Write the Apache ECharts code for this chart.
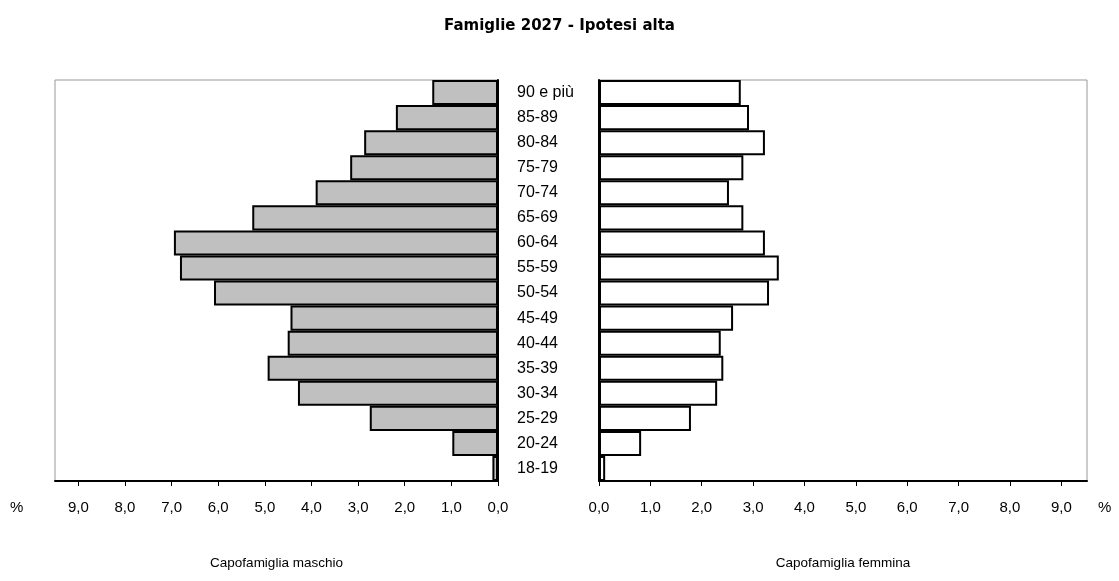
<!DOCTYPE html>
<html>
<head>
<meta charset="utf-8">
<script src="https://cdn.jsdelivr.net/npm/echarts@6/dist/echarts.min.js"></script>
<style>
  html, body { margin: 0; padding: 0; background: #fff; }
  #chart { width: 1119px; height: 581px; }
</style>
</head>
<body>
<div id="chart"></div>
<script>
// Age classes, top to bottom
const ageClasses = [
  "90 e più", "85-89", "80-84", "75-79", "70-74", "65-69", "60-64", "55-59",
  "50-54", "45-49", "40-44", "35-39", "30-34", "25-29", "20-24", "18-19"
];

// % of households, male head
const maleValues = [
  1.41, 2.19, 2.87, 3.17, 3.91, 5.27, 6.95, 6.82,
  6.09, 4.45, 4.51, 4.94, 4.29, 2.75, 0.98, 0.12
];

// % of households, female head
const femaleValues = [
  2.76, 2.92, 3.23, 2.81, 2.53, 2.81, 3.23, 3.50,
  3.31, 2.61, 2.37, 2.42, 2.30, 1.79, 0.82, 0.12
];

const tickValues = [0, 1, 2, 3, 4, 5, 6, 7, 8, 9];

const FONT = "Liberation Sans, Arial, sans-serif";

const chart = echarts.init(document.getElementById("chart"), null, { renderer: "canvas" });

const fmt = (v) => v.toFixed(1).replace(".", ",");

// shared bits for the two value axes
const valueAxis = (gridIndex, inverse, name) => ({
  type: "value",
  gridIndex,
  min: 0,
  max: 9.5,
  inverse,
  name,
  nameLocation: "middle",
  nameGap: 75,
  nameTextStyle: {
    fontFamily: "Liberation Sans Narrow, Arial Narrow, Liberation Sans, sans-serif",
    fontSize: 13.5,
    color: "#000",
  },
  axisLine: { show: true, lineStyle: { color: "#000", width: 2 } },
  axisTick: {
    show: true,
    length: 5,
    customValues: tickValues,
    lineStyle: { color: "#000", width: 1 },
  },
  axisLabel: {
    customValues: tickValues,
    formatter: fmt,
    fontFamily: FONT,
    fontSize: 15,
    color: "#000",
    margin: 19,
  },
  splitLine: { show: false },
});

const option = {
  animation: false,
  backgroundColor: "#fff",
  title: {
    text: "Famiglie 2027 - Ipotesi alta",
    left: "center",
    top: 14,
    textStyle: {
      fontFamily: "DejaVu Sans, Verdana, sans-serif",
      fontWeight: "bold",
      fontSize: 15,
      color: "#000",
    },
  },
  grid: [
    { left: 55, top: 80, width: 443, height: 401, show: true, borderColor: "#999", borderWidth: 1, backgroundColor: "#fff" },
    { left: 599, top: 80, width: 488, height: 401, show: true, borderColor: "#999", borderWidth: 1, backgroundColor: "#fff" },
  ],
  xAxis: [
    valueAxis(0, true, "Capofamiglia maschio"),
    valueAxis(1, false, "Capofamiglia femmina"),
  ],
  yAxis: [
    {
      type: "category",
      gridIndex: 0,
      data: ageClasses,
      inverse: true,
      position: "right",
      axisLine: { show: true, lineStyle: { color: "#000", width: 2 } },
      axisTick: { show: false },
      axisLabel: { show: false },
    },
    {
      type: "category",
      gridIndex: 1,
      data: ageClasses,
      inverse: true,
      position: "left",
      axisLine: { show: true, lineStyle: { color: "#000", width: 2 } },
      axisTick: { show: false },
      axisLabel: {
        align: "left",
        margin: 82,
        fontFamily: FONT,
        fontSize: 16,
        color: "#000",
      },
    },
  ],
  graphic: [
    { type: "text", left: 10, top: 500, style: { text: "%", fontFamily: FONT, fontSize: 15, fill: "#000" } },
    { type: "text", left: 1098, top: 500, style: { text: "%", fontFamily: FONT, fontSize: 15, fill: "#000" } },
  ],
  series: [
    {
      type: "bar",
      xAxisIndex: 0,
      yAxisIndex: 0,
      data: maleValues,
      barCategoryGap: "0%",
      itemStyle: { color: "#c0c0c0", borderColor: "#000", borderWidth: 2 },
    },
    {
      type: "bar",
      xAxisIndex: 1,
      yAxisIndex: 1,
      data: femaleValues,
      barCategoryGap: "0%",
      itemStyle: { color: "#fff", borderColor: "#000", borderWidth: 2 },
    },
  ],
};

chart.setOption(option);
</script>
</body>
</html>
